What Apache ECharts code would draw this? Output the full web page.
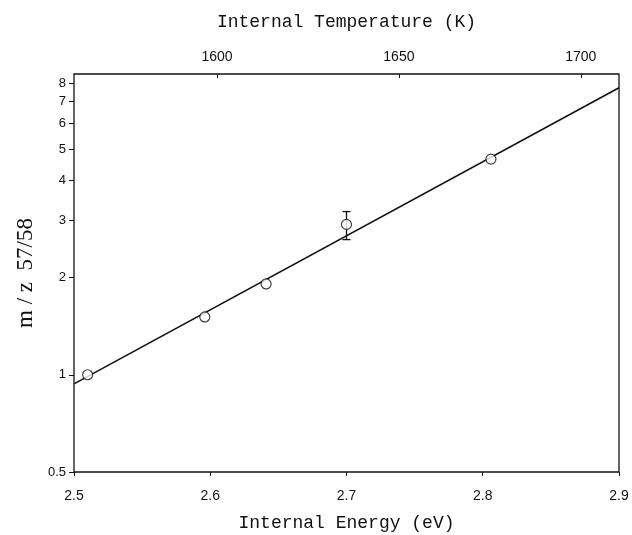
<!DOCTYPE html>
<html>
<head>
<meta charset="utf-8">
<script src="https://cdn.jsdelivr.net/npm/echarts@6/dist/echarts.min.js"></script>
<style>
html,body{margin:0;padding:0;background:#fff;}
#chart{width:632px;height:535px;}
</style>
</head>
<body>
<div id="chart"></div>
<script>
// Data
const energy = [2.51, 2.596, 2.641, 2.700, 2.806];
const ratio = [1.00, 1.51, 1.91, 2.92, 4.65];
const fitEnergy = [2.5, 2.9];
const fitRatio = [0.937, 7.73];
const errEnergy = [2.700];
const errLow = [2.62];
const errHigh = [3.20];
const xTicks = [2.5, 2.6, 2.7, 2.8, 2.9];
const yTicks = [0.5, 1, 2, 3, 4, 5, 6, 7, 8];
const tempTicks = [1600, 1650, 1700];
const tempRange = [1560.7, 1710.5];

const chart = echarts.init(document.getElementById('chart'));
const ink = '#111';
const labelFont = {color: ink, fontFamily: 'Liberation Sans', fontSize: 14};

chart.setOption({
  animation: false,
  backgroundColor: '#fff',
  grid: {left: 74, right: 13, top: 74, bottom: 63, containLabel: false, outerBoundsMode: 'none',
         show: true, borderColor: ink, borderWidth: 1.3, backgroundColor: 'transparent'},
  xAxis: [
    {
      type: 'value', position: 'bottom', min: 2.5, max: 2.9,
      name: 'Internal Energy (eV)', nameLocation: 'middle', nameGap: 42,
      nameTextStyle: {color: ink, fontFamily: 'Liberation Mono', fontSize: 18},
      axisLine: {show: false},
      axisTick: {show: true, inside: false, length: 4, lineStyle: {color: ink}, customValues: xTicks},
      axisLabel: Object.assign({margin: 17, customValues: xTicks, formatter: v => v.toFixed(1)}, labelFont),
      splitLine: {show: false}
    },
    {
      type: 'value', position: 'top', min: tempRange[0], max: tempRange[1],
      name: 'Internal Temperature (K)', nameLocation: 'middle', nameGap: 43,
      nameTextStyle: {color: ink, fontFamily: 'Liberation Mono', fontSize: 18},
      axisLine: {show: false},
      axisTick: {show: true, inside: true, length: 4, lineStyle: {color: ink}, customValues: tempTicks},
      axisLabel: Object.assign({margin: 10, customValues: tempTicks, formatter: v => String(Math.round(v))}, labelFont),
      splitLine: {show: false}
    }
  ],
  yAxis: {
    type: 'log', logBase: 10, min: 0.5, max: 8.53,
    name: 'm / z  57/58', nameLocation: 'middle', nameGap: 31,
    nameTextStyle: {color: ink, fontFamily: 'Liberation Serif', fontSize: 23},
    axisLine: {show: false},
    axisTick: {show: true, inside: false, length: 5, lineStyle: {color: ink}, customValues: yTicks},
    axisLabel: Object.assign({margin: 8, customValues: yTicks, formatter: v => String(v)}, labelFont, {fontSize: 13}),
    splitLine: {show: false},
    minorTick: {show: false}
  },
  series: [
    {
      type: 'line', xAxisIndex: 0,
      data: fitEnergy.map((e, i) => [e, fitRatio[i]]),
      symbol: 'none', lineStyle: {color: ink, width: 1.6}, z: 2
    },
    {
      type: 'custom', xAxisIndex: 0,
      data: errEnergy.map((e, i) => [e, errLow[i], errHigh[i]]),
      renderItem: function (params, api) {
        const lo = api.coord([api.value(0), api.value(1)]);
        const hi = api.coord([api.value(0), api.value(2)]);
        const w = 4;
        const st = {stroke: ink, lineWidth: 1.3};
        return {type: 'group', children: [
          {type: 'line', shape: {x1: lo[0], y1: lo[1], x2: hi[0], y2: hi[1]}, style: st},
          {type: 'line', shape: {x1: lo[0]-w, y1: lo[1], x2: lo[0]+w, y2: lo[1]}, style: st},
          {type: 'line', shape: {x1: hi[0]-w, y1: hi[1], x2: hi[0]+w, y2: hi[1]}, style: st}
        ]};
      },
      z: 3
    },
    {
      type: 'scatter', xAxisIndex: 0,
      data: energy.map((e, i) => [e, ratio[i]]),
      symbol: 'circle', symbolSize: 10,
      itemStyle: {color: '#fff', borderColor: ink, borderWidth: 1.2},
      z: 4
    }
  ]
});
</script>
</body>
</html>
